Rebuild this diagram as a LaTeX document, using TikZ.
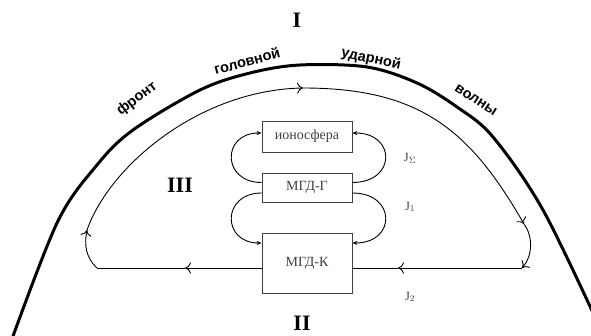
\documentclass[tikz,border=0pt]{standalone}
\usepackage{fontspec}
\setmainfont{Liberation Serif}
\setsansfont{Liberation Sans}
\usetikzlibrary{arrows.meta}

\begin{document}
\begin{tikzpicture}[x=1pt, y=-1pt,
		unitBox/.style={rectangle, draw=black!75, line width=0.8pt, minimum width=90pt, inner sep=0pt, text=black!75, font=\fontsize{14}{14}\selectfont},
		waveLabel/.style={inner sep=1pt, font=\sffamily\bfseries\fontsize{14.5}{14.5}\selectfont},
		zoneLabel/.style={font=\bfseries\fontsize{22}{22}\selectfont},
		currentLabel/.style={text=black!75, font=\fontsize{12.5}{12.5}\selectfont},
		loopLine/.style={line width=0.9pt},
		loopArrow/.style={loopLine, -{To[length=6pt, width=11pt]}},
		boxArrow/.style={line width=0.9pt, -{Stealth[length=5pt, width=4pt]}}]
		\useasboundingbox (0,0) rectangle (591,336);
		% shock front
		\draw[line width=3pt] plot[smooth, tension=0.55] coordinates {(8,350) (57,223) (97,165) (133,130) (200,90) (250,73) (300,65) (367,67) (417,83) (457,107) (493,137) (543,210) (600,328)};
		\node[waveLabel, rotate=37](frontWord) at (137,99){фронт};
		\node[waveLabel, rotate=15](headWord) at (247,61){головной};
		\node[waveLabel, rotate=-12](shockWord) at (371,59){ударной};
		\node[waveLabel, rotate=-33](waveWord) at (476,100){волны};
		% regions
		\node[zoneLabel](zoneI) at (297,20){I};
		\node[zoneLabel](zoneII) at (302,323){II};
		\node[zoneLabel](zoneIII) at (180,185){III};
		% blocks
		\node[unitBox, minimum height=31pt](ionoBox) at (307,136.5){ионосфера};
		\node[unitBox, minimum height=29pt](mgdGBox) at (307,187.5){МГД-Г};
		\node[unitBox, minimum height=60pt](mgdKBox) at (307,263){МГД-К};
		\node[currentLabel](jSigma) at (410,158){J$_\Sigma$};
		\node[currentLabel](jOne) at (410,207){J$_1$};
		\node[currentLabel](jTwo) at (410,297){J$_2$};
		% current loop
		\coordinate(loopLeft) at (97,268);
		\coordinate(loopUp) at (87,230);
		\coordinate(loopTop) at (303,88);
		\coordinate(loopDown) at (524,224);
		\coordinate(loopRight) at (522,268);
		\coordinate(arrowTwoR) at (398,268);
		\coordinate(arrowTwoL) at (185,268);
		\draw[loopArrow] (loopLeft) .. controls (86,258) and (84,245) .. (loopUp);
		\draw[loopArrow] (loopUp) .. controls (110,165) and (200,90) .. (loopTop);
		\draw[loopArrow] (loopTop) .. controls (420,88) and (470,130) .. (loopDown);
		\draw[loopArrow] (loopDown) .. controls (533,236) and (533,256) .. (loopRight);
		\draw[loopArrow] (loopRight) -- (arrowTwoR);
		\draw[loopLine] (arrowTwoR) -- (mgdKBox.east |- loopRight);
		\draw[loopArrow] (mgdKBox.west |- loopLeft) -- (arrowTwoL);
		\draw[loopLine] (arrowTwoL) -- (loopLeft);
		% links between blocks
		\draw[boxArrow] ([yshift=5pt]mgdGBox.west) .. controls +(-40,0) and +(-40,0) .. ([yshift=3.5pt]ionoBox.west);
		\draw[boxArrow] ([yshift=5pt]mgdGBox.east) .. controls +(44,0) and +(44,0) .. ([yshift=3.5pt]ionoBox.east);
		\draw[boxArrow] ([yshift=-5.5pt]mgdGBox.west) .. controls +(-40,0) and +(-40,0) .. ([yshift=20pt]mgdKBox.west);
		\draw[boxArrow] ([yshift=-5.5pt]mgdGBox.east) .. controls +(44,0) and +(44,0) .. ([yshift=20pt]mgdKBox.east);
	\end{tikzpicture}
\end{document}
